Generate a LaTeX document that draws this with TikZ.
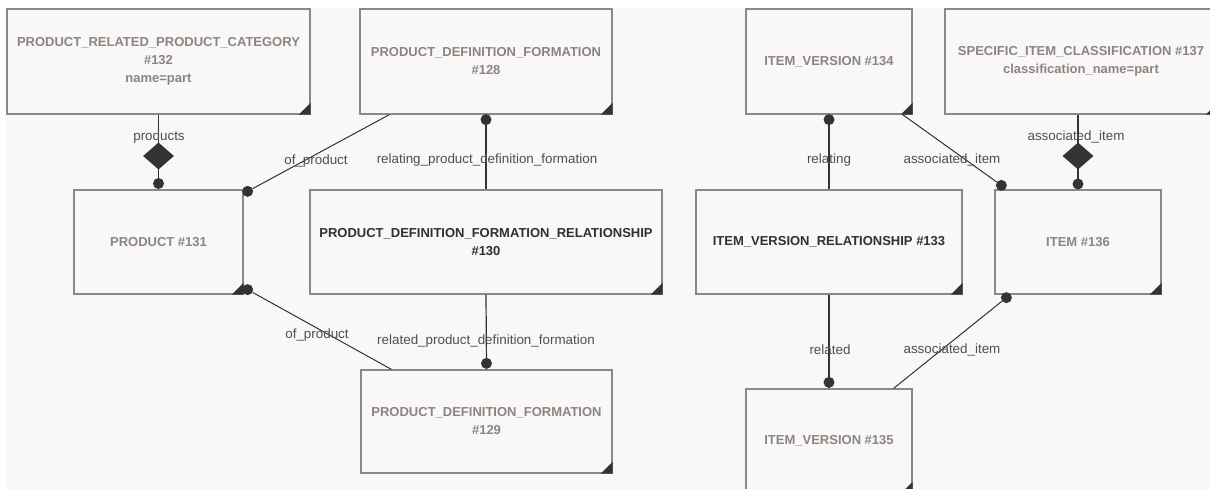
\documentclass[tikz,border=0pt]{standalone}
\usepackage{fontspec}
\setmainfont{Liberation Sans}
\usetikzlibrary{shapes.geometric,calc}
\definecolor{bgc}{HTML}{F9F8F7}
\definecolor{boxline}{HTML}{8C8885}
\definecolor{greytxt}{HTML}{8A8582}
\definecolor{darktxt}{HTML}{303030}
\definecolor{conn}{HTML}{333333}
\tikzset{
  ent/.style={draw=boxline, line width=1.3pt, fill=bgc, rectangle, align=center, inner sep=0pt,
    font=\fontsize{13}{18}\selectfont\bfseries, text=greytxt},
  rel/.style={ent, text=darktxt},
  lbl/.style={font=\fontsize{13.4}{15}\selectfont, text=darktxt!85, inner sep=0pt},
  dotn/.style={circle, fill=conn, draw=none, minimum size=11pt, inner sep=0pt},
  dia/.style={diamond, fill=conn, draw=none, minimum width=31pt, minimum height=27pt, inner sep=0pt, aspect=1.15},
  cline/.style={draw=conn, line width=1.2pt},
  corner/.style={fill=conn, draw=none}
}
\newcommand{\tri}[1]{\fill[corner] (#1.south east) -- ++(-12,0) -- ++(12,-12) -- cycle;}
\begin{document}
\begin{tikzpicture}[x=1pt,y=-1pt]
\useasboundingbox (0,0) rectangle (1210,489);
\clip (0,0) rectangle (1210,489);
\fill[bgc] (7,8) rectangle (1215,495);
% entities
\node[ent, minimum width=303pt, minimum height=105pt] (n132) at (158.5,61.5) {PRODUCT\_RELATED\_PRODUCT\_CATEGORY\\\#132\\name=part};
\node[ent, minimum width=252pt, minimum height=105pt] (n128) at (486,61.5) {PRODUCT\_DEFINITION\_FORMATION\\\#128};
\node[ent, minimum width=169pt, minimum height=104pt] (n131) at (158.5,242) {PRODUCT \#131};
\node[rel, minimum width=352pt, minimum height=104pt] (n130) at (486,242) {PRODUCT\_DEFINITION\_FORMATION\_RELATIONSHIP\\\#130};
\node[ent, minimum width=251pt, minimum height=103pt] (n129) at (486.5,421.5) {PRODUCT\_DEFINITION\_FORMATION\\\#129};
\node[ent, minimum width=166pt, minimum height=105pt] (n134) at (829,61.5) {ITEM\_VERSION \#134};
\node[ent, minimum width=272pt, minimum height=105pt] (n137) at (1081,61.5) {SPECIFIC\_ITEM\_CLASSIFICATION \#137\\classification\_name=part};
\node[rel, minimum width=266pt, minimum height=104pt] (n133) at (829,242) {ITEM\_VERSION\_RELATIONSHIP \#133};
\node[ent, minimum width=166pt, minimum height=104pt] (n136) at (1078,242) {ITEM \#136};
\node[ent, minimum width=166pt, minimum height=104pt] (n135) at (829,441) {ITEM\_VERSION \#135};
\foreach \n in {n132,n128,n131,n130,n129,n134,n137,n133,n136,n135} {\tri{\n}}
% connectors
\draw[cline] (n132.south) -- (n131.north);
\node[dia] (dm1) at (158.5,156) {};
\node[dotn] (d1) at (158.5,183.5) {};
\node[lbl] at (159,137) {products};

\coordinate (p128a) at ($(n128.south west)+(30,0)$);
\node[dotn] (d2) at ($(n131.north east)+(4,2)$) {};
\draw[cline, line width=1pt] (p128a) -- (d2);
\node[lbl] at (316,161) {of\_product};

\draw[cline] (n128.south) -- (n130.north);
\node[dotn] (d3) at ($(n128.south)+(0,5)$) {};
\node[lbl] at (487,160) {relating\_product\_definition\_formation};

\node[dotn] (d4) at ($(n131.south east)+(4,-5)$) {};
\coordinate (p129a) at ($(n129.north west)+(31,0)$);
\draw[cline, line width=1pt] (d4) -- (p129a);
\node[lbl] at (317,335) {of\_product};

\draw[cline] (n130.south) -- (n129.north);
\node[dotn] (d5) at ($(n129.north)+(0,-6)$) {};
\node[lbl] at (486,341) {related\_product\_definition\_formation};

\draw[cline] (n134.south) -- (n133.north);
\node[dotn] (d6) at ($(n134.south)+(0,5)$) {};
\node[lbl] at (829,160) {relating};

\coordinate (p134a) at ($(n134.south east)+(-10,0)$);
\node[dotn] (d7) at ($(n136.north west)+(7,-4)$) {};
\draw[cline, line width=1pt] (p134a) -- (d7);
\node[lbl] at (952,160) {associated\_item};

\draw[cline] (n136.north |- n137.south) -- (n136.north);
\node[dia] (dm2) at (1078,156) {};
\node[dotn] (d8) at (1078,184) {};
\node[lbl] at (1076,137) {associated\_item};

\draw[cline] (n133.south) -- (n135.north);
\node[dotn] (d9) at ($(n135.north)+(0,-6)$) {};
\node[lbl] at (830,350) {related};

\node[dotn] (d10) at ($(n136.south west)+(12,3)$) {};
\coordinate (p135a) at ($(n135.north east)+(-19,0)$);
\draw[cline, line width=1pt] (d10) -- (p135a);
\node[lbl] at (952,350) {associated\_item};
\end{tikzpicture}
\end{document}
